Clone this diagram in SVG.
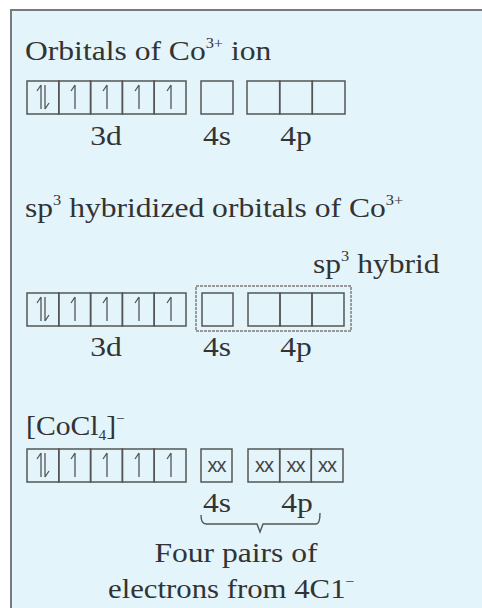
<svg xmlns="http://www.w3.org/2000/svg" width="482" height="608" viewBox="0 0 482 608">
<style>
.t{font-family:"Liberation Serif","Times New Roman",serif;font-size:27px;fill:#333}
.sup{font-size:14px}
.box{fill:none;stroke:#555;stroke-width:1.5}
.h{fill:none;stroke:#555;stroke-width:1.3}
.xx{font-family:"Liberation Sans",Arial,sans-serif;font-size:20px;fill:#444;text-anchor:middle;letter-spacing:-1px}
.hyb{fill:none;stroke:#999;stroke-width:2;stroke-dasharray:3 1}
.br{fill:none;stroke:#555;stroke-width:1.4}
</style>
<defs>
<path id="up" class="h" d="M0,-12 V12 M0,-12 L-4,-6"/>
<path id="dn" class="h" d="M0,12 V-12 M0,12 L4,6"/>
<g id="d5">
<rect class="box" x="0" y="0" width="31.8" height="33"/>
<rect class="box" x="31.8" y="0" width="31.8" height="33"/>
<rect class="box" x="63.6" y="0" width="31.8" height="33"/>
<rect class="box" x="95.4" y="0" width="31.8" height="33"/>
<rect class="box" x="127.2" y="0" width="31.8" height="33"/>
<use href="#up" x="14" y="16"/>
<use href="#dn" x="18" y="16"/>
<use href="#up" x="48" y="16"/>
<use href="#up" x="80" y="16"/>
<use href="#up" x="112" y="16"/>
<use href="#up" x="144" y="16"/>
</g>
</defs>
<rect x="0" y="0" width="482" height="608" fill="#ffffff"/>
<rect x="11" y="10" width="480" height="610" fill="#e3f4fb" stroke="#7a7a7a" stroke-width="2"/>

<g id="title1">
<text class="t" transform="translate(25,60) scale(1.17,1)">Orbitals of Co<tspan class="sup" dy="-12">3+</tspan><tspan dy="12"> ion</tspan></text>
</g>
<g id="row1">
<use href="#d5" x="27" y="81"/>
<rect class="box" x="201" y="81" width="32" height="33"/>
<rect class="box" x="247" y="81" width="32.7" height="33"/>
<rect class="box" x="279.7" y="81" width="32.6" height="33"/>
<rect class="box" x="312.3" y="81" width="32.7" height="33"/>
<text class="t" text-anchor="middle" transform="translate(106,145) scale(1.17,1)">3d</text>
<text class="t" text-anchor="middle" transform="translate(217,145) scale(1.17,1)">4s</text>
<text class="t" text-anchor="middle" transform="translate(296,145) scale(1.17,1)">4p</text>
</g>

<g id="title2">
<text class="t" transform="translate(25,217) scale(1.17,1)">sp<tspan class="sup" dy="-12">3</tspan><tspan dy="12"> hybridized orbitals of Co</tspan><tspan class="sup" dy="-12">3+</tspan></text>
</g>
<g id="row2">
<text class="t" transform="translate(313,273) scale(1.17,1)">sp<tspan class="sup" dy="-12">3</tspan><tspan dy="12"> hybrid</tspan></text>
<rect class="hyb" x="196" y="286" width="155" height="45"/>
<use href="#d5" x="27" y="293"/>
<rect class="box" x="202" y="293" width="31" height="33"/>
<rect class="box" x="248" y="293" width="32" height="33"/>
<rect class="box" x="280" y="293" width="32" height="33"/>
<rect class="box" x="312" y="293" width="32" height="33"/>
<text class="t" text-anchor="middle" transform="translate(106,356) scale(1.17,1)">3d</text>
<text class="t" text-anchor="middle" transform="translate(217,356) scale(1.17,1)">4s</text>
<text class="t" text-anchor="middle" transform="translate(296,356) scale(1.17,1)">4p</text>
</g>

<g id="title3">
<text class="t" transform="translate(26,435) scale(1.1,1)">[CoCl<tspan class="sup" dy="5">4</tspan><tspan dy="-5">]</tspan><tspan class="sup" dy="-12">−</tspan></text>
</g>
<g id="row3">
<use href="#d5" x="27" y="449"/>
<rect class="box" x="201" y="449" width="31" height="33"/>
<rect class="box" x="248" y="449" width="31.7" height="33"/>
<rect class="box" x="279.7" y="449" width="31.6" height="33"/>
<rect class="box" x="311.3" y="449" width="31.7" height="33"/>
<text class="xx" x="216.5" y="472">xx</text>
<text class="xx" x="264" y="472">xx</text>
<text class="xx" x="295.5" y="472">xx</text>
<text class="xx" x="327" y="472">xx</text>
<text class="t" text-anchor="middle" transform="translate(217,512) scale(1.17,1)">4s</text>
<text class="t" text-anchor="middle" transform="translate(297,512) scale(1.17,1)">4p</text>
</g>

<g id="connectors">
<path class="br" d="M201,515 Q201,524 206,524 H257 L260,532 L263,524 H316 Q320,524 320,513"/>
</g>

<g id="note">
<text class="t" text-anchor="middle" transform="translate(236,562) scale(1.17,1)">Four pairs of</text>
<text class="t" transform="translate(108,598) scale(1.14,1)">electrons from 4C1<tspan class="sup" dy="-12">−</tspan></text>
</g>
</svg>
